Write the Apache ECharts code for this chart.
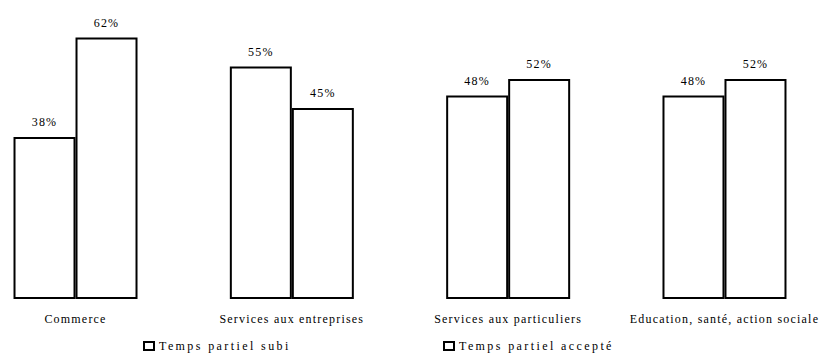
<!DOCTYPE html>
<html>
<head>
<meta charset="utf-8">
<script src="https://cdn.jsdelivr.net/npm/echarts@6/dist/echarts.min.js"></script>
<style>
  html, body { margin: 0; padding: 0; background: #fff; }
  #chart { width: 819px; height: 356px; }
  /* spaced-out serif lettering; legend entries (left-aligned) are spaced wider */
  #chart text { letter-spacing: 1.2px; }
  #chart text:not([text-anchor="middle"]) { letter-spacing: 2.4px; }
</style>
</head>
<body>
<div id="chart"></div>
<script>
const categories = ['Commerce', 'Services aux entreprises', 'Services aux particuliers', 'Education, santé, action sociale'];
const seriesNames = ['Temps partiel subi', 'Temps partiel accepté'];
const subi = [38, 55, 48, 48];
const accepte = [62, 45, 52, 52];

const serif = 'Liberation Serif, Times New Roman, serif';

const chart = echarts.init(document.getElementById('chart'), null, { renderer: 'svg' });

const barStyle = { color: '#fff', borderColor: '#000', borderWidth: 2 };
const barLabel = {
  show: true, position: 'top', distance: 9,
  color: '#000', fontFamily: serif, fontSize: 12,
  formatter: '{c}%'
};

function legendFor(name, left) {
  return {
    data: [name], left: left, top: 340, padding: 0,
    icon: 'rect', itemWidth: 10, itemHeight: 8,
    itemStyle: { color: '#fff', borderColor: '#000', borderWidth: 2 },
    textStyle: { color: '#000', fontFamily: serif, fontSize: 12 },
    selectedMode: false
  };
}

chart.setOption({
  animation: false,
  backgroundColor: '#fff',
  grid: {
    left: -32.65, width: 865.3, top: 4.3, height: 294.7,
    containLabel: false, outerBoundsMode: 'none'
  },
  legend: [legendFor(seriesNames[0], 143), legendFor(seriesNames[1], 443)],
  xAxis: {
    type: 'category', data: categories,
    axisLine: { show: false }, axisTick: { show: false },
    axisLabel: { interval: 0, margin: 14, color: '#000', fontFamily: serif, fontSize: 12 }
  },
  yAxis: { type: 'value', show: false, min: -1, max: 70, startValue: -1, splitLine: { show: false } },
  series: [
    { name: seriesNames[0], type: 'bar', data: subi, barWidth: 62, barGap: '0%', itemStyle: barStyle, label: barLabel },
    { name: seriesNames[1], type: 'bar', data: accepte, barWidth: 62, barGap: '0%', itemStyle: barStyle, label: barLabel }
  ]
});
</script>
</body>
</html>
